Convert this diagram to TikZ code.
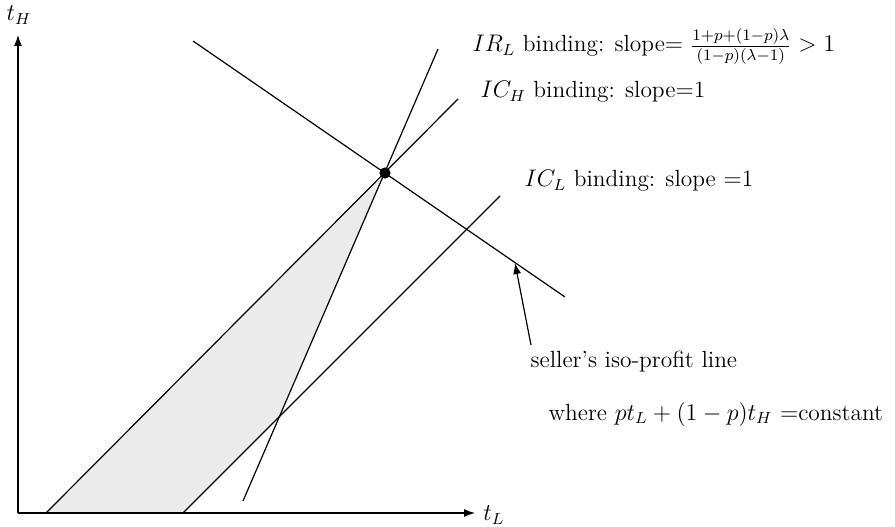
\documentclass[tikz,border=0pt]{standalone}
\usetikzlibrary{arrows.meta}

\begin{document}
\begin{tikzpicture}[
    x=0.5pt, y=0.5pt,
    >={Latex[length=5.5pt,width=4pt]},
    line width=0.6pt,
    every node/.style={font=\fontsize{11.7}{14}\selectfont},
    lbl/.style={anchor=base west, inner sep=0pt},
    shade/.style={fill=black!8, draw=none}
]
\useasboundingbox (0,0) rectangle (895,526);

% points
\coordinate (origin) at (18,13);
\coordinate (ytop) at (18,491);
\coordinate (xend) at (475,13);
\coordinate (opt) at (385,353);
\coordinate (icha) at (46,13);
\coordinate (ichb) at (458,427);
\coordinate (irla) at (243,25);
\coordinate (irlb) at (438,477);
\coordinate (icla) at (183,13);
\coordinate (iclb) at (500,330);
\coordinate (cross) at (280,110);
\coordinate (isoa) at (193,485);
\coordinate (isob) at (565,229);
\coordinate (tail) at (531,181);
\coordinate (tip) at (515,263);

% feasible region
\fill[shade] (icha) -- (opt) -- (cross) -- (icla) -- cycle;

% axes
\draw[->] (origin) -- (xend);
\draw[->] (origin) -- (ytop);
\node (tl) at (494,11) {$t_L$};
\node (th) at (19,511) {$t_H$};

% binding constraints
\draw (icha) -- (ichb);
\draw (irla) -- (irlb);
\draw (icla) -- (iclb);
\draw (isoa) -- (isob);
\fill (opt) circle (2.8pt);

% labels
\node[lbl] (irl) at (472,474) {$IR_L$ binding: slope$=\frac{1+p+(1-p)\lambda}{(1-p)(\lambda-1)}>1$};
\node[lbl] (ich) at (480,428) {$IC_H$ binding: slope$=$1};
\node[lbl] (icl) at (524,339) {$IC_L$ binding: slope $=$1};
\node[lbl] (iso) at (530,159) {seller's iso-profit line};
\node[lbl] (where) at (548,106) {where $pt_L+(1-p)t_H$ $=$constant};

\draw[->] (tail) -- (tip);

\end{tikzpicture}
\end{document}
